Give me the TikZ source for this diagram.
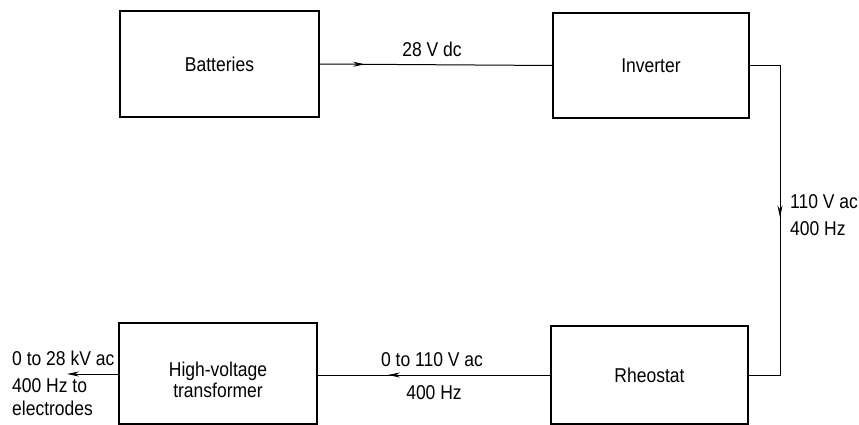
\documentclass[tikz,border=0pt]{standalone}
\usepackage{fontspec}
\setmainfont{Liberation Sans}[FakeStretch=0.875]
\usetikzlibrary{arrows.meta,decorations.markings}
\begin{document}
\begin{tikzpicture}[x=1pt,y=-1pt,
  every node/.style={font=\fontsize{20}{21}\selectfont},
  box/.style={draw,line width=1.2pt,inner sep=0pt,outer sep=0pt},
  wire/.style={line width=1pt},
  midarrow/.style={postaction={decorate},decoration={markings,
     mark=at position #1 with {\arrow{Stealth[length=12pt,width=5pt]}}}},
  lbl/.style={inner sep=0pt}]
\useasboundingbox (0,0) rectangle (859,425);
% boxes
\node[box,minimum width=199pt,minimum height=106pt] (bat) at (219.5,64) {Batteries};
\node[box,minimum width=196pt,minimum height=105pt] (inv) at (651,65.5) {Inverter};
\node[box,minimum width=198pt,minimum height=101pt] (hv) at (218,373.5) {};
\node[lbl,align=center] (hvt) at (218,380) {High-voltage\\transformer};
\node[box,minimum width=197pt,minimum height=98pt] (rheo) at (649.5,375) {Rheostat};
\coordinate (corner) at (780,0);
\coordinate (out) at (67,374);
% connectors
\draw[wire,midarrow=46pt] (bat.east) -- (inv.west);
\draw[wire,midarrow=183pt] (inv.east) -| (corner |- rheo.east) -- (rheo.east);
\draw[wire,midarrow=163pt] (rheo.west) -- (rheo.west -| hv.east);
\draw[wire,-{Stealth[length=12pt,width=5pt]}] (hv.west |- out) -- (out);
% labels
\node[lbl,anchor=base] (l1) at (432,57) {28 V dc};
\node[lbl,anchor=base west] (l2) at (790,208) {110 V ac};
\node[lbl,anchor=base west] (l3) at (790,235) {400 Hz};
\node[lbl,anchor=base] (l4) at (432,366) {0 to 110 V ac};
\node[lbl,anchor=base] (l5) at (434,399) {400 Hz};
\node[lbl,anchor=base west] (l6) at (12,365) {0 to 28 kV ac};
\node[lbl,anchor=base west] (l7) at (12,392) {400 Hz to};
\node[lbl,anchor=base west] (l8) at (12,415) {electrodes};
\end{tikzpicture}
\end{document}
